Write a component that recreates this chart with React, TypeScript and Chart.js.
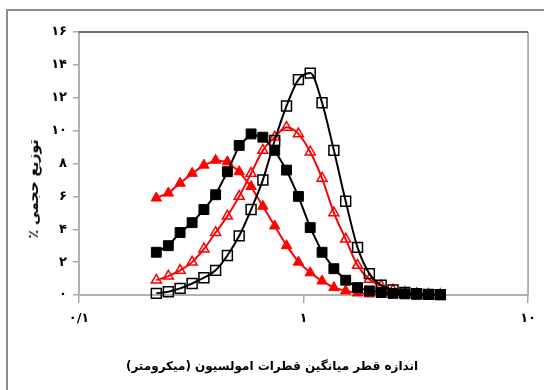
import React, { useEffect, useRef } from "react";
import { Chart, registerables } from "chart.js";

Chart.register(...registerables);

// Droplet size bins (micrometre)
const sizes = [
  0.221, 0.25, 0.282, 0.319, 0.36, 0.406, 0.458, 0.517, 0.584, 0.659,
  0.744, 0.84, 0.949, 1.071, 1.209, 1.365, 1.541, 1.74, 1.964, 2.217,
  2.503, 2.826, 3.19, 3.601, 4.066,
];

// Series values (volume %)
const filledTriangles = [
  5.9, 6.2, 6.8, 7.4, 7.9, 8.2, 8.1, 7.5, 6.6, 5.4,
  4.2, 3.0, 2.0, 1.35, 0.85, 0.45, 0.25, 0.12, 0.06, 0.04,
  0.02, 0.01, 0, 0, 0,
];
const filledSquares = [
  2.6, 3.0, 3.8, 4.4, 5.2, 6.1, 7.5, 9.1, 9.8, 9.6,
  8.8, 7.6, 6.0, 4.1, 2.6, 1.6, 0.9, 0.45, 0.25, 0.15,
  0.1, 0.07, 0.05, 0.03, 0.02,
];
const openTriangles = [
  0.9, 1.15, 1.5, 2.0, 2.8, 3.8, 4.8, 6.0, 7.4, 8.8,
  9.6, 10.2, 9.8, 8.7, 7.1, 5.0, 3.4, 1.8, 0.95, 0.55,
  0.3, 0.15, 0.08, 0.04, 0.02,
];
const openSquares = [
  0.1, 0.2, 0.4, 0.7, 1.05, 1.5, 2.4, 3.6, 5.2, 7.0,
  9.4, 11.5, 13.1, 13.5, 11.7, 8.8, 5.7, 2.9, 1.3, 0.6,
  0.3, 0.15, 0.08, 0.04, 0.02,
];

// Tick labels
const yTickLabels = ["۰", "۲", "۴", "۶", "۸", "۱۰", "۱۲", "۱۴", "۱۶"];
const xTickValues = [0.1, 1, 10];
const xTickLabels = ["۰/۱", "۱", "۱۰"];

const yTitle = "توزیع حجمی ٪";
const xTitle = "اندازه قطر میانگین قطرات امولسیون (میکرومتر)";

const FONT = "'DejaVu Sans', 'Noto Sans', sans-serif";

const boxPlugin = {
  id: "box",
  beforeDatasetsDraw(chart: any) {
    const { ctx, chartArea } = chart;
    const { left, right, top, bottom } = chartArea;
    ctx.save();
    ctx.strokeStyle = "#9a9a9a";
    ctx.lineWidth = 1.5;
    ctx.beginPath();
    ctx.moveTo(right, top);
    ctx.lineTo(right, bottom);
    ctx.stroke();
    ctx.strokeStyle = "#444";
    ctx.lineWidth = 1.5;
    ctx.beginPath();
    ctx.moveTo(left, top);
    ctx.lineTo(right, top);
    ctx.stroke();
    ctx.restore();
  },
};

function toPts(vals: number[]) {
  return vals.map((v, i) => ({ x: sizes[i], y: v }));
}

export default function App() {
  const ref = useRef<HTMLCanvasElement | null>(null);

  useEffect(() => {
    if (!ref.current) return;
    const chart = new Chart(ref.current, {
      type: "line",
      data: {
        datasets: [
          {
            label: "open squares",
            data: toPts(openSquares),
            borderColor: "#000",
            borderWidth: 2,
            cubicInterpolationMode: "monotone",
            pointStyle: "rect",
            pointRadius: 7,
            pointBorderWidth: 1.5,
            pointBorderColor: "#000",
            pointBackgroundColor: "rgba(255,255,255,0)",
            clip: false,
            order: 1,
          },
          {
            label: "filled squares",
            data: toPts(filledSquares),
            borderColor: "#000",
            borderWidth: 2,
            tension: 0,
            pointStyle: "rect",
            pointRadius: 7,
            pointBorderWidth: 1,
            pointBorderColor: "#000",
            pointBackgroundColor: "#000",
            clip: false,
            order: 2,
          },
          {
            label: "open triangles",
            data: toPts(openTriangles),
            borderColor: "#ff0000",
            borderWidth: 2,
            cubicInterpolationMode: "monotone",
            pointStyle: "triangle",
            pointRadius: 5.8,
            pointBorderWidth: 1.5,
            pointBorderColor: "#ff0000",
            pointBackgroundColor: "rgba(255,255,255,0)",
            clip: false,
            order: 3,
          },
          {
            label: "filled triangles",
            data: toPts(filledTriangles),
            borderColor: "#ff0000",
            borderWidth: 2,
            tension: 0,
            pointStyle: "triangle",
            pointRadius: 6,
            pointBorderWidth: 1,
            pointBorderColor: "#ff0000",
            pointBackgroundColor: "#ff0000",
            clip: false,
            order: 4,
          },
        ],
      },
      options: {
        responsive: false,
        animation: false,
        events: [],
        layout: { padding: { left: 0, right: 12, top: 32, bottom: 0 } },
        plugins: {
          legend: { display: false },
          tooltip: { enabled: false },
          title: { display: false },
        },
        scales: {
          x: {
            type: "logarithmic",
            min: 0.1,
            max: 10,
            afterBuildTicks: (scale: any) => {
              scale.ticks = xTickValues.map((v) => ({ value: v }));
            },
            afterFit: (scale: any) => {
              scale.height = 95;
            },
            ticks: {
              autoSkip: false,
              maxRotation: 0,
              padding: 8,
              color: "#000",
              font: { family: FONT, size: 13, weight: "bold" },
              callback: (_v: any, i: number) => xTickLabels[i],
            },
            grid: {
              drawOnChartArea: false,
              drawTicks: true,
              tickLength: 8,
              color: "#a8a8a8",
              lineWidth: 1.5,
            },
            border: { display: true, color: "#b0b0b0", width: 2 },
          },
          y: {
            min: 0,
            max: 16,
            afterFit: (scale: any) => {
              scale.width = 79;
            },
            ticks: {
              stepSize: 2,
              padding: 6,
              color: "#000",
              font: { family: FONT, size: 13, weight: "bold" },
              callback: (v: any) => yTickLabels[Math.round(Number(v) / 2)],
            },
            grid: {
              drawOnChartArea: false,
              drawTicks: true,
              tickLength: 6,
              color: "#a8a8a8",
              lineWidth: 1.5,
            },
            border: { display: true, color: "#b0b0b0", width: 2 },
          },
        },
      },
      plugins: [boxPlugin],
    } as any);
    return () => chart.destroy();
  }, []);

  return (
    <div
      style={{
        position: "absolute",
        left: 0,
        top: 0,
        width: 544,
        height: 390,
        overflow: "hidden",
        background: "#fff",
      }}
    >
      <div
        style={{
          position: "absolute",
          left: 6,
          top: 9,
          width: 600,
          height: 450,
          border: "2px solid #8c8c8c",
        }}
      />
      <canvas
        ref={ref}
        width={544}
        height={390}
        style={{ position: "absolute", left: 0, top: 0, width: 544, height: 390 }}
      />
      <div
        dir="rtl"
        style={{
          position: "absolute",
          left: 33,
          top: 189,
          transform: "translate(-50%, -50%) rotate(-90deg)",
          whiteSpace: "nowrap",
          fontFamily: FONT,
          fontSize: 14,
          fontWeight: "bold",
          color: "#000",
          lineHeight: "16px",
        }}
      >
        {yTitle}
      </div>
      <div
        dir="rtl"
        style={{
          position: "absolute",
          left: 0,
          width: 544,
          top: 358,
          textAlign: "center",
          whiteSpace: "nowrap",
          fontFamily: FONT,
          fontSize: 12,
          fontWeight: "bold",
          color: "#000",
          lineHeight: "16px",
        }}
      >
        {xTitle}
      </div>
    </div>
  );
}
